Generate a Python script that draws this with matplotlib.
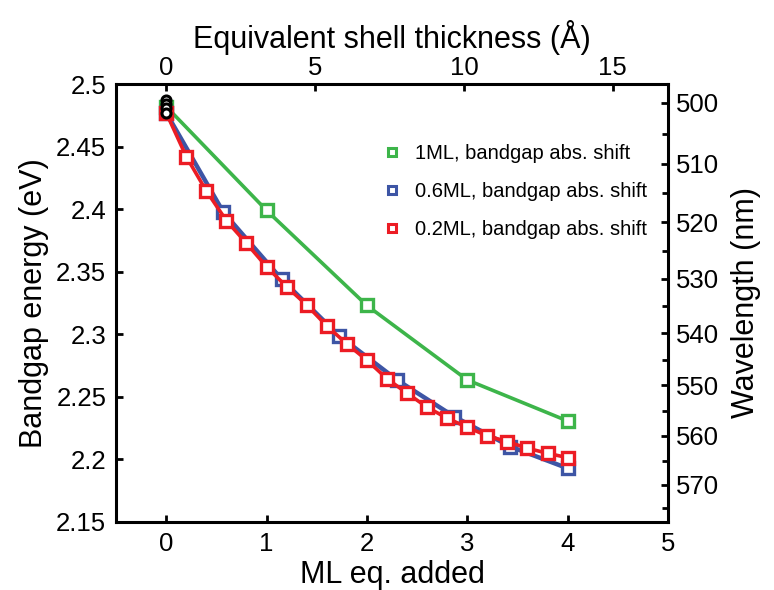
import matplotlib
matplotlib.use('Agg')
import matplotlib.pyplot as plt

plt.rcParams['font.family'] = ['Liberation Sans', 'DejaVu Sans']

# data
ml_1 = [0, 1, 2, 3, 4]
e_1 = [2.482, 2.399, 2.323, 2.2635, 2.2307]

ml_06 = [0, 0.57, 1.15, 1.72, 2.30, 2.87, 3.43, 4.0]
e_06 = [2.477, 2.3975, 2.344, 2.299, 2.2635, 2.2342, 2.2102, 2.1929]

ml_02 = [0, 0.2, 0.4, 0.6, 0.8, 1.0, 1.2, 1.4, 1.6, 1.8, 2.0,
         2.2, 2.4, 2.6, 2.8, 3.0, 3.2, 3.4, 3.6, 3.8, 4.0]
e_02 = [2.477, 2.442, 2.4145, 2.3908, 2.3727, 2.354, 2.338, 2.3234, 2.3067, 2.2923, 2.2793,
        2.2645, 2.2529, 2.2417, 2.2329, 2.2257, 2.2188, 2.2142, 2.2089, 2.2049, 2.2014]

ml_start = [0, 0, 0, 0]
e_start = [2.4872, 2.4840, 2.4808, 2.4768]

labels = ['1ML, bandgap abs. shift', '0.6ML, bandgap abs. shift', '0.2ML, bandgap abs. shift']
green = '#3db54a'
blue = '#3d55a5'
red = '#ec1c24'

A_PER_ML = 3.37
HC = 1242.5

fig = plt.figure(figsize=(7.74, 5.90), dpi=100)
ax = fig.add_axes([0.1499, 0.1153, 0.7131, 0.7423])

ax.plot(ml_1, e_1, '-', color=green, lw=2.6, marker='s', ms=8, mfc='white', mec=green, mew=2.4)
ax.plot(ml_06, e_06, '-', color=blue, lw=3.2, marker='s', ms=8, mfc='white', mec=blue, mew=2.4)
ax.plot(ml_02, e_02, '-', color=red, lw=2.6, marker='s', ms=8, mfc='white', mec=red, mew=2.4)
ax.plot(ml_start, e_start, 'o', ls='none', ms=6.5, mfc='white', mec='black', mew=2.2)

# legend: markers only
hs = []
for c in [green, blue, red]:
    h, = ax.plot([], [], 's', ls='none', ms=6, mfc='white', mec=c, mew=2.2)
    hs.append(h)
ax.legend(hs, labels, loc='upper right', bbox_to_anchor=(0.962, 0.863), frameon=False,
          fontsize=14.5, handlelength=0.8, handletextpad=0.75, labelspacing=0.95,
          borderpad=0, borderaxespad=0)

ax.set_xlim(-0.5, 5)
ax.set_ylim(2.15, 2.5)
ax.set_xticks([0, 1, 2, 3, 4, 5])
ax.set_yticks([2.15, 2.2, 2.25, 2.3, 2.35, 2.4, 2.45, 2.5])
ax.set_yticklabels(['2.15', '2.2', '2.25', '2.3', '2.35', '2.4', '2.45', '2.5'])
ax.tick_params(direction='in', length=5, width=2, labelsize=18.5, pad=7)
for s in ax.spines.values():
    s.set_linewidth(2.2)

ax.set_xlabel('ML eq. added', fontsize=22, labelpad=3)
ax.set_ylabel('Bandgap energy (eV)', fontsize=22, labelpad=5)

top = ax.secondary_xaxis('top', functions=(lambda x: x * A_PER_ML, lambda a: a / A_PER_ML))
top.set_xticks([0, 5, 10, 15])
top.tick_params(direction='in', length=5, width=2, labelsize=18.5, pad=3)
top.set_xlabel('Equivalent shell thickness (Å)', fontsize=22, labelpad=6)

right = ax.secondary_yaxis('right', functions=(lambda e: HC / e, lambda l: HC / l))
right.set_yticks([500, 510, 520, 530, 540, 550, 560, 570])
right.set_yticks([505, 515, 525, 535, 545, 555, 565, 575], minor=True)
right.tick_params(which='major', direction='in', length=5, width=2, labelsize=18.5, pad=6)
right.tick_params(which='minor', direction='in', length=4, width=2)
right.set_ylabel('Wavelength (nm)', fontsize=22, labelpad=8)

fig.savefig('out.png', dpi=100)
